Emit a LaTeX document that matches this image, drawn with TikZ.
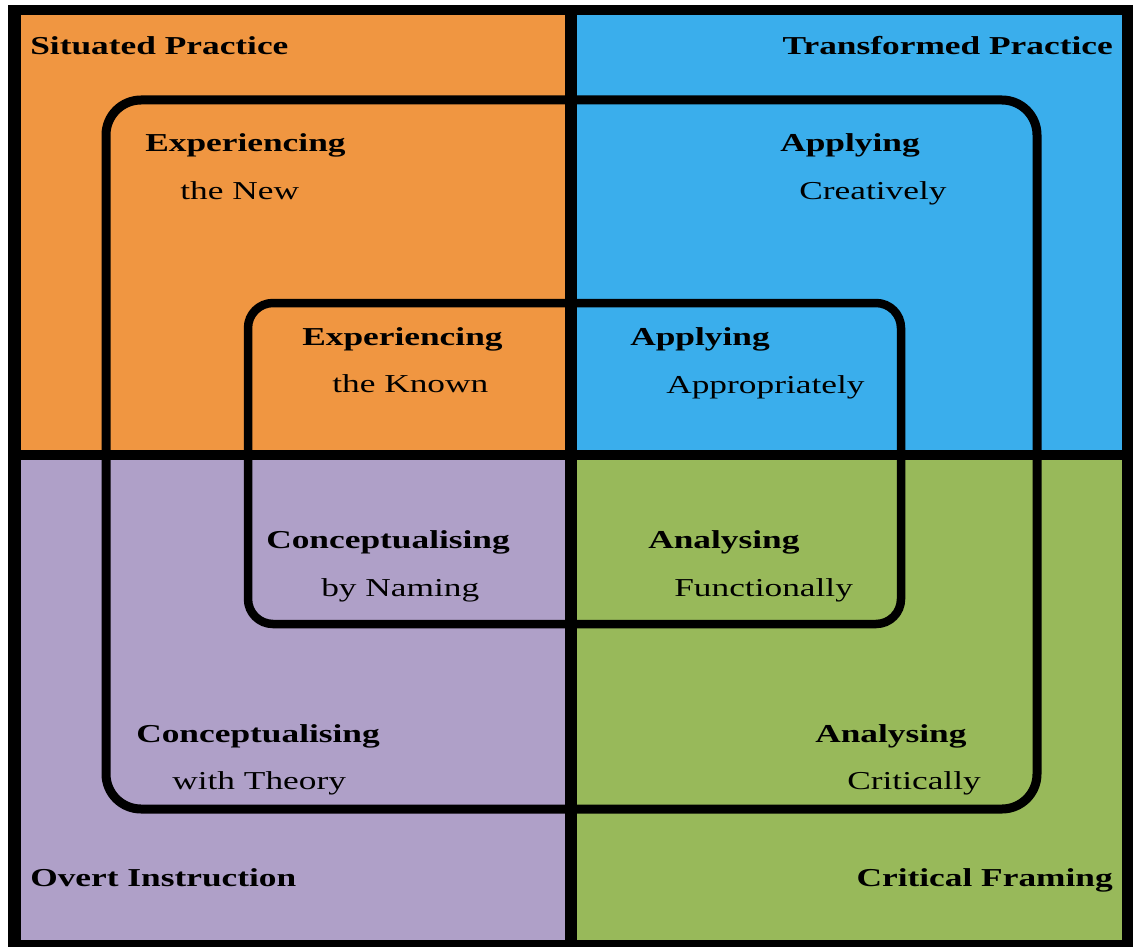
\documentclass[tikz,border=0pt]{standalone}
\usepackage{fontspec}
\setmainfont{Liberation Serif}
\definecolor{sitorange}{RGB}{240,150,65}
\definecolor{trblue}{RGB}{58,174,236}
\definecolor{ovpurple}{RGB}{175,160,200}
\definecolor{crgreen}{RGB}{152,185,90}
\tikzset{
  title/.style={font=\bfseries\fontsize{25.8}{30}\selectfont, anchor=base west, xscale=1.37, inner sep=0pt},
  subtitle/.style={font=\fontsize{25.8}{30}\selectfont, anchor=base west, xscale=1.37, inner sep=0pt}
}
\begin{document}
\begin{tikzpicture}[x=1pt,y=-1pt]
\useasboundingbox (0,0) rectangle (1133,947);
\fill[white] (0,0) rectangle (1133,947);
% Frame and quadrants
\fill[black] (8,5) rectangle (1133,947);
\fill[sitorange] (21,15) rectangle (565,450);
\fill[trblue] (577,15) rectangle (1122,450);
\fill[ovpurple] (21,460) rectangle (565,940);
\fill[crgreen] (577,460) rectangle (1122,940);
% Rounded boxes
\draw[line width=9pt, rounded corners=35pt] (106,100) rectangle (1037,809);
\draw[line width=8.5pt, rounded corners=25pt] (248,303) rectangle (901,624);
% Corner labels
\node[title] (sit) at (30,55) {Situated Practice};
\node[title, anchor=base east] (trans) at (1113,55) {Transformed Practice};
\node[title] (overt) at (30,886) {Overt Instruction};
\node[title, anchor=base east] (crit) at (1113,886) {Critical Framing};
% Outer box labels
\node[title] (expnew) at (145,152) {Experiencing};
\node[subtitle] (expnew2) at (180,200) {the New};
\node[title] (appcre) at (780,152) {Applying};
\node[subtitle] (appcre2) at (799,200) {Creatively};
\node[title] (contheo) at (136,742) {Conceptualising};
\node[subtitle] (contheo2) at (172,789) {with Theory};
\node[title] (anacri) at (815,742) {Analysing};
\node[subtitle] (anacri2) at (847,789) {Critically};
% Inner box labels
\node[title] (expknown) at (302,345) {Experiencing};
\node[subtitle] (expknown2) at (332,392) {the Known};
\node[title] (appapp) at (630,345) {Applying};
\node[subtitle] (appapp2) at (666,393) {Appropriately};
\node[title] (connam) at (266,548) {Conceptualising};
\node[subtitle] (connam2) at (321,596) {by Naming};
\node[title] (anafun) at (648,548) {Analysing};
\node[subtitle] (anafun2) at (674,596) {Functionally};
\end{tikzpicture}
\end{document}
